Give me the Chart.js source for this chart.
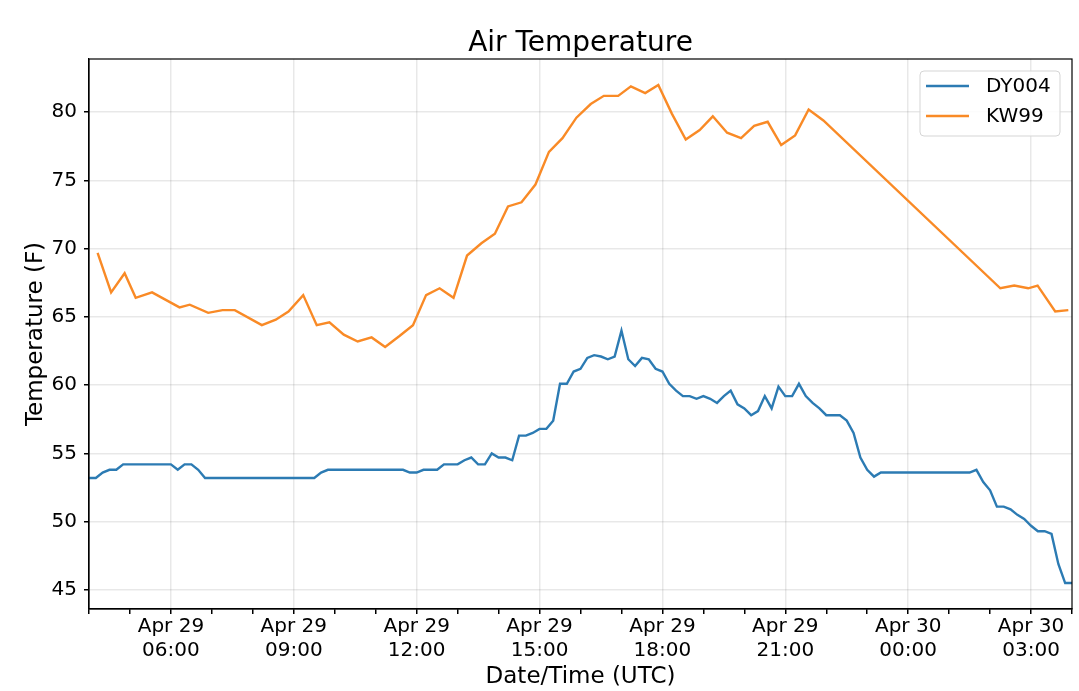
<!DOCTYPE html>
<html>
<head>
<meta charset="utf-8">
<script src="https://cdn.jsdelivr.net/npm/chart.js@4.4.0/dist/chart.umd.min.js"></script>
<style>
html, body { margin: 0; padding: 0; background: #fff; }
</style>
</head>
<body>
<canvas id="Chart" width="1079" height="691"></canvas>
<script>
// DY004: one reading every 10 minutes from Apr 29 04:00 (hours counted from Apr 29 00:00)
const dyStartHour = 4;
const dyStepMinutes = 10;
const dyTemps = [
    53.2, 53.2, 53.6, 53.8, 53.8,
    54.2, 54.2, 54.2, 54.2, 54.2, 54.2, 54.2, 54.2,
    53.8, 54.2, 54.2, 53.8,
    53.2, 53.2, 53.2, 53.2, 53.2, 53.2, 53.2, 53.2, 53.2,
    53.2, 53.2, 53.2, 53.2, 53.2, 53.2, 53.2, 53.2,
    53.6,
    53.8, 53.8, 53.8, 53.8, 53.8, 53.8, 53.8, 53.8, 53.8, 53.8, 53.8, 53.8,
    53.6, 53.6,
    53.8, 53.8, 53.8,
    54.2, 54.2, 54.2,
    54.5, 54.7, 54.2, 54.2, 55.0, 54.7, 54.7, 54.5,
    56.3, 56.3, 56.5, 56.8, 56.8, 57.4, 60.1, 60.1, 61.0, 61.2,
    62.0, 62.2, 62.1, 61.9, 62.1, 64.0, 61.9, 61.4, 62.0, 61.9,
    61.2, 61.0, 60.1, 59.6, 59.2, 59.2, 59.0, 59.2, 59.0, 58.7,
    59.2, 59.6, 58.6, 58.3, 57.8, 58.1, 59.2, 58.3, 59.9, 59.2,
    59.2, 60.1, 59.2, 58.7, 58.3, 57.8, 57.8, 57.8, 57.4, 56.5,
    54.7, 53.8, 53.3,
    53.6, 53.6, 53.6, 53.6, 53.6, 53.6, 53.6, 53.6, 53.6, 53.6, 53.6, 53.6, 53.6, 53.6,
    53.8, 52.9, 52.3, 51.1, 51.1, 50.9, 50.5, 50.2, 49.7, 49.3,
    49.3, 49.1, 46.9, 45.5, 45.5
];

// KW99: irregular readings (hours from Apr 29 00:00)
const kwHours = [
    4.21, 4.54, 4.87, 5.14, 5.54, 6.21, 6.46, 6.91, 7.26, 7.56,
    8.22, 8.56, 8.87, 9.23, 9.56, 9.87, 10.22, 10.56, 10.90, 11.23,
    11.58, 11.91, 12.23, 12.56, 12.90, 13.23, 13.58, 13.91, 14.23, 14.56,
    14.90, 15.23, 15.56, 15.90, 16.25, 16.57, 16.92, 17.23, 17.58, 17.90,
    18.23, 18.57, 18.91, 19.23, 19.58, 19.92, 20.24, 20.57, 20.90, 21.24,
    21.57, 21.93, 26.25, 26.59, 26.93, 27.16, 27.59, 27.91
];
const kwTemps = [
    69.7, 66.8, 68.2, 66.4, 66.8, 65.7, 65.9, 65.3, 65.5, 65.5,
    64.4, 64.8, 65.4, 66.6, 64.4, 64.6, 63.7, 63.2, 63.5, 62.8,
    63.6, 64.4, 66.6, 67.1, 66.4, 69.5, 70.4, 71.1, 73.1, 73.4,
    74.7, 77.1, 78.1, 79.6, 80.6, 81.2, 81.2, 81.9, 81.4, 82.0,
    79.9, 78.0, 78.7, 79.7, 78.5, 78.1, 79.0, 79.3, 77.6, 78.3,
    80.2, 79.4, 67.1, 67.3, 67.1, 67.3, 65.4, 65.5
];

const seriesNames = ["DY004", "KW99"];
const seriesColors = ["#2c7bb3", "#f98a26"];
const xLabelHours = [6, 9, 12, 15, 18, 21, 24, 27];
const xRange = [4, 28];
const yRange = [43.6, 83.9];
const chartTitle = "Air Temperature";

const dyPoints = dyTemps.map((v, i) => ({ x: dyStartHour + i * dyStepMinutes / 60, y: v }));
const kwPoints = kwHours.map((h, i) => ({ x: h, y: kwTemps[i] }));

const gridColor = "rgba(0,0,0,0.09)";

function hourLabel(v) {
    const day = v < 24 ? "Apr 29" : "Apr 30";
    const hh = String(v % 24).padStart(2, "0");
    return [day, hh + ":00"];
}

// title centred over the plot, plus a frame round it
const framePlugin = {
    id: "frame",
    afterDraw(chart) {
        const a = chart.chartArea, c = chart.ctx;
        c.save();
        c.strokeStyle = "#000";
        c.lineWidth = 1.2;
        c.strokeRect(a.left, a.top, a.right - a.left, a.bottom - a.top);
        c.fillStyle = "#000";
        c.font = "28px 'DejaVu Sans'";
        c.textAlign = "center";
        c.textBaseline = "alphabetic";
        c.fillText(chartTitle, (a.left + a.right) / 2, 51);
        c.restore();
    }
};

// legend box in the upper right corner of the plot
const boxLegend = {
    id: "boxLegend",
    afterDraw(chart) {
        const a = chart.chartArea, c = chart.ctx;
        const w = 140, h = 65;
        const x = a.right - 12 - w, y = a.top + 12;
        c.save();
        c.fillStyle = "rgba(255,255,255,0.85)";
        c.strokeStyle = "#d5d5d5";
        c.lineWidth = 1;
        c.beginPath();
        c.roundRect(x, y, w, h, 4);
        c.fill();
        c.stroke();
        c.font = "20px 'DejaVu Sans'";
        c.textBaseline = "middle";
        chart.data.datasets.forEach((ds, i) => {
            const ly = y + 15 + i * 30;
            c.strokeStyle = ds.borderColor;
            c.lineWidth = 2.4;
            c.beginPath();
            c.moveTo(x + 6, ly);
            c.lineTo(x + 49, ly);
            c.stroke();
            c.fillStyle = "#000";
            c.fillText(ds.label, x + 66, ly + 1);
        });
        c.restore();
    }
};

Chart.defaults.font.family = "'DejaVu Sans'";
Chart.defaults.color = "#000";

new Chart(document.getElementById("Chart"), {
    type: "line",
    data: {
        datasets: [{
            label: seriesNames[0],
            data: dyPoints,
            borderColor: seriesColors[0],
            backgroundColor: seriesColors[0],
            borderWidth: 2.4,
            pointRadius: 0,
            fill: false
        }, {
            label: seriesNames[1],
            data: kwPoints,
            borderColor: seriesColors[1],
            backgroundColor: seriesColors[1],
            borderWidth: 2.4,
            pointRadius: 0,
            fill: false
        }]
    },
    options: {
        responsive: false,
        animation: false,
        devicePixelRatio: 1,
        layout: { padding: { left: 0, right: 7, top: 59, bottom: 0 } },
        plugins: {
            legend: { display: false },
            tooltip: { enabled: false },
            title: { display: false }
        },
        scales: {
            x: {
                type: "linear",
                min: xRange[0],
                max: xRange[1],
                afterFit(scale) { scale.height = 82; },
                ticks: {
                    stepSize: 1,
                    autoSkip: false,
                    maxRotation: 0,
                    padding: 1,
                    font: { size: 20 },
                    color: "#000",
                    callback: (v) => xLabelHours.includes(v) ? hourLabel(v) : ""
                },
                grid: {
                    color: (ctx) => ctx.tick && xLabelHours.includes(ctx.tick.value) ? gridColor : "rgba(0,0,0,0)",
                    lineWidth: 1.5,
                    tickColor: "#000",
                    tickLength: 5
                },
                border: { color: "#000", width: 1.2 },
                title: {
                    display: true,
                    text: "Date/Time (UTC)",
                    font: { size: 23 },
                    color: "#000",
                    padding: { top: 0, bottom: 0 }
                }
            },
            y: {
                min: yRange[0],
                max: yRange[1],
                afterFit(scale) { scale.width = 89; },
                ticks: {
                    stepSize: 5,
                    includeBounds: false,
                    padding: 7,
                    font: { size: 20 },
                    color: "#000"
                },
                grid: {
                    color: gridColor,
                    lineWidth: 1.5,
                    tickColor: "#000",
                    tickLength: 5
                },
                border: { color: "#000", width: 1.2 },
                title: {
                    display: true,
                    text: "Temperature (F)",
                    font: { size: 23 },
                    color: "#000",
                    padding: { top: 22, bottom: 0 }
                }
            }
        }
    },
    plugins: [framePlugin, boxLegend]
});
</script>
</body>
</html>
